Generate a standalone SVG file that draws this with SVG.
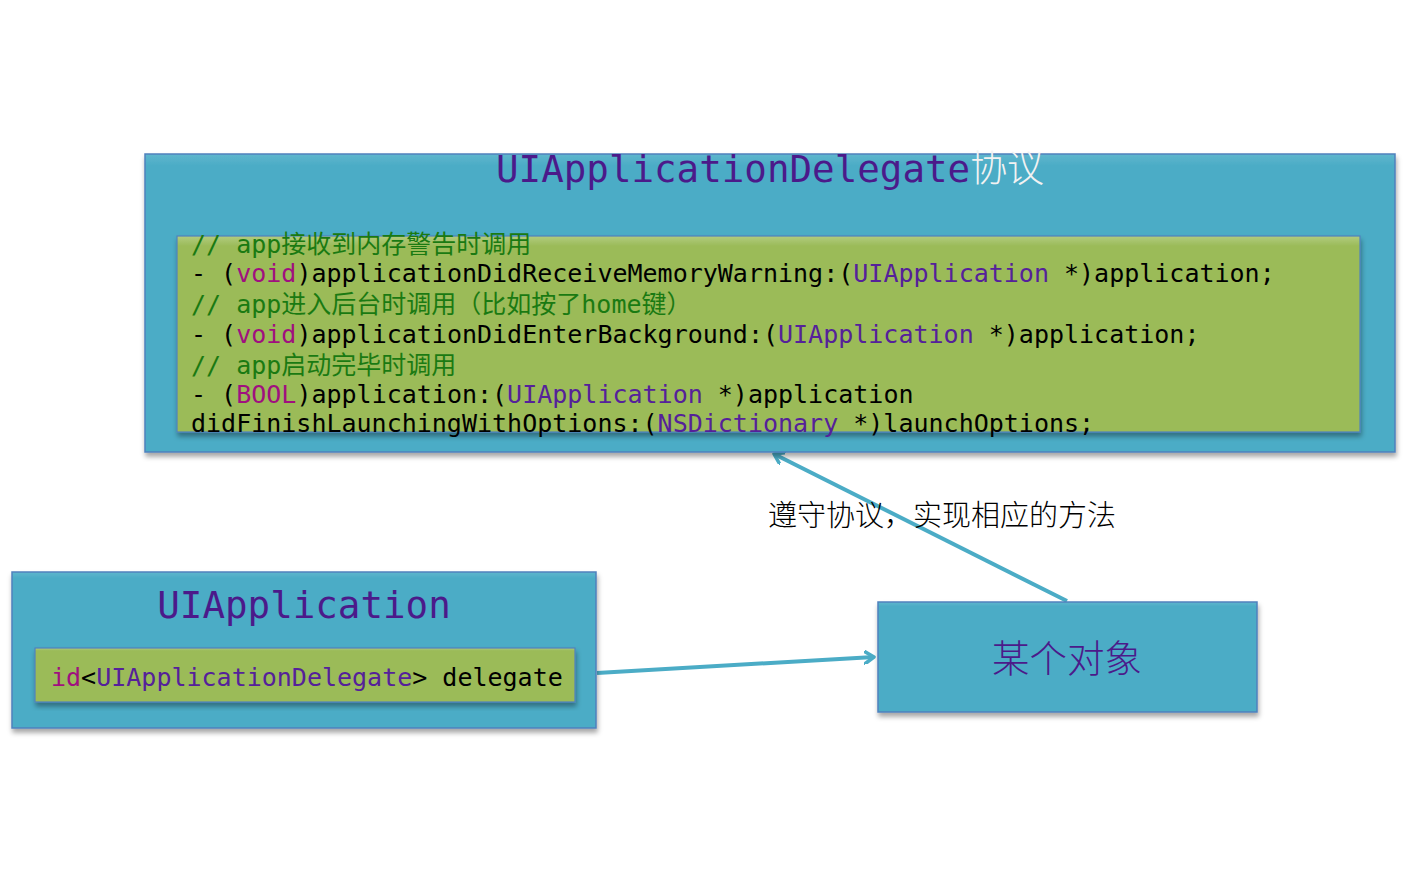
<svg xmlns="http://www.w3.org/2000/svg" width="1407" height="880" viewBox="0 0 1407 880">
<defs>
<filter id="sh" x="-5%" y="-10%" width="110%" height="125%">
<feDropShadow dx="1" dy="4" stdDeviation="2.5" flood-color="#000" flood-opacity="0.35"/>
</filter>
<marker id="arr" markerWidth="12" markerHeight="14" refX="10" refY="7" orient="auto" markerUnits="userSpaceOnUse">
<path d="M1,1 L10,7 L1,13" fill="none" stroke="#4BACC6" stroke-width="3.5" stroke-linecap="round" stroke-linejoin="round"/>
</marker>
<linearGradient id="gb" x1="0" y1="0" x2="0" y2="1">
<stop offset="0" stop-color="#5FB6CD"/>
<stop offset="0.04" stop-color="#4BACC6"/>
<stop offset="1" stop-color="#4BACC6"/>
</linearGradient>
<linearGradient id="gg" x1="0" y1="0" x2="0" y2="1">
<stop offset="0" stop-color="#B2CC80"/>
<stop offset="0.05" stop-color="#9BBB59"/>
<stop offset="1" stop-color="#9BBB59"/>
</linearGradient>
</defs>
<style>
.box{fill:url(#gb);stroke:#4F81BD;stroke-width:1.5;filter:url(#sh)}
.code{fill:url(#gg);stroke:#4F81BD;stroke-width:1.2;filter:url(#sh)}
.mono{font-family:"DejaVu Sans Mono","Noto Sans CJK SC",monospace;font-size:25px;fill:#000}
.title{font-family:"DejaVu Sans Mono","Noto Sans CJK SC",monospace;font-size:37.5px;fill:#4B1A8A}
.cm{fill:#1A7A12}
.kw{fill:#A0107F}
.cl{fill:#55219A}
.cjk{font-family:"Noto Sans CJK SC",sans-serif;font-weight:300}
.conn{fill:none;stroke:#4BACC6;stroke-width:4;marker-end:url(#arr)}
</style>

<g id="connectors">
<line class="conn" x1="1067" y1="601" x2="774" y2="454"/>
<line class="conn" x1="597" y1="673" x2="874" y2="657"/>
</g>

<g id="delegate-protocol">
<rect class="box" x="145" y="154" width="1250" height="298"/>
<text class="title" x="496" y="182">UIApplicationDelegate<tspan class="cjk" fill="#F2F2F2" font-size="37">协议</tspan></text>
<rect class="code" x="177" y="236" width="1183" height="196"/>
<text class="mono" x="191" y="253"><tspan class="cm">// app接收到内存警告时调用</tspan></text>
<text class="mono" x="191" y="282">- (<tspan class="kw">void</tspan>)applicationDidReceiveMemoryWarning:(<tspan class="cl">UIApplication</tspan> *)application;</text>
<text class="mono" x="191" y="313"><tspan class="cm">// app进入后台时调用（比如按了home键）</tspan></text>
<text class="mono" x="191" y="343">- (<tspan class="kw">void</tspan>)applicationDidEnterBackground:(<tspan class="cl">UIApplication</tspan> *)application;</text>
<text class="mono" x="191" y="374"><tspan class="cm">// app启动完毕时调用</tspan></text>
<text class="mono" x="191" y="403">- (<tspan class="kw">BOOL</tspan>)application:(<tspan class="cl">UIApplication</tspan> *)application</text>
<text class="mono" x="191" y="432">didFinishLaunchingWithOptions:(<tspan class="cl">NSDictionary</tspan> *)launchOptions;</text>
</g>

<g id="uiapplication">
<rect class="box" x="12" y="572" width="584" height="156"/>
<text class="title" x="304" y="618" text-anchor="middle">UIApplication</text>
<rect class="code" x="35" y="648" width="540" height="54"/>
<text class="mono" x="51" y="686"><tspan class="kw">id</tspan>&lt;<tspan class="cl">UIApplicationDelegate</tspan>&gt; delegate</text>
</g>

<g id="some-object">
<rect class="box" x="878" y="602" width="379" height="110"/>
<text x="1067" y="672" text-anchor="middle" font-family="Noto Sans CJK SC,sans-serif" font-weight="300" font-size="37.5" fill="#4B1A8A">某个对象</text>
</g>

<g id="label">
<text x="768" y="526" font-family="Noto Sans CJK SC,sans-serif" font-weight="300" font-size="29" fill="#000">遵守协议，实现相应的方法</text>
</g>
</svg>
